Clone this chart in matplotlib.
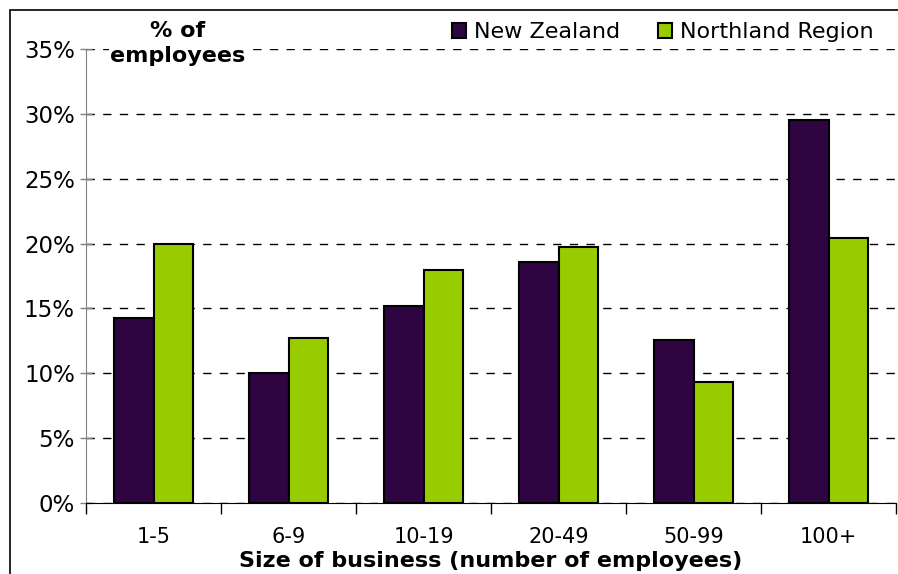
import numpy as np
import matplotlib.pyplot as plt
from matplotlib.patches import Rectangle

# Share of employees by business size
categories = ["1-5", "6-9", "10-19", "20-49", "50-99", "100+"]
nz_values = [14.3, 10.0, 15.2, 18.6, 12.6, 29.5]
northland_values = [20.0, 12.7, 18.0, 19.7, 9.3, 20.4]
y_ticks = [0, 5, 10, 15, 20, 25, 30, 35]

NZ_COLOR = "#2E0441"
NR_COLOR = "#99CC00"

fig = plt.figure(figsize=(8.98, 5.74), dpi=100)
ax = fig.add_axes([0.0958, 0.1237, 0.9020, 0.7909])

x = np.arange(len(categories))
w = 0.295
ax.bar(x - w / 2, nz_values, width=w, color=NZ_COLOR, edgecolor="black",
       linewidth=1.5, label="New Zealand", zorder=3)
ax.bar(x + w / 2, northland_values, width=w, color=NR_COLOR, edgecolor="black",
       linewidth=1.5, label="Northland Region", zorder=3)

ax.set_xlim(-0.5, len(categories) - 0.5)
ax.set_ylim(0, 35)
ax.set_yticks(y_ticks)
ax.set_yticklabels([f"{v}%" for v in y_ticks])

# category labels between boundary ticks
ax.set_xticks(x)
ax.set_xticklabels(categories)
ax.tick_params(axis="x", length=0, pad=17, labelsize=15)
ax.set_xticks(np.arange(len(categories) + 1) - 0.5, minor=True)
ax.tick_params(axis="x", which="minor", length=8, width=1, color="black")
ax.tick_params(axis="y", direction="inout", length=8, width=1, color="#808080",
               labelsize=16.5, pad=4)

ax.yaxis.grid(True, color="black", linestyle=(0, (6, 6)), linewidth=1, zorder=0)
ax.set_axisbelow(True)

for s in ["top", "right"]:
    ax.spines[s].set_visible(False)
ax.spines["left"].set_color("#808080")
ax.spines["bottom"].set_color("black")

ax.set_xlabel("Size of business (number of employees)", fontsize=16,
              fontweight="bold", labelpad=3)

fig.text(0.198, 0.924, "% of\nemployees", ha="center", va="center",
         fontsize=16, fontweight="bold", linespacing=1.3,
         bbox=dict(facecolor="white", edgecolor="none", pad=1))

fig.legend(loc="center right", bbox_to_anchor=(0.995, 0.944), ncol=2,
           frameon=False, fontsize=16, handlelength=0.65, handleheight=0.65,
           handletextpad=0.35, columnspacing=1.7)

# outer chart border
fig.patches.append(Rectangle((10 / 898, -0.05), 1.1, 1 - 10 / 574 + 0.05,
                             transform=fig.transFigure, fill=False,
                             edgecolor="black", linewidth=1.2))

fig.savefig("out.png", dpi=100)
